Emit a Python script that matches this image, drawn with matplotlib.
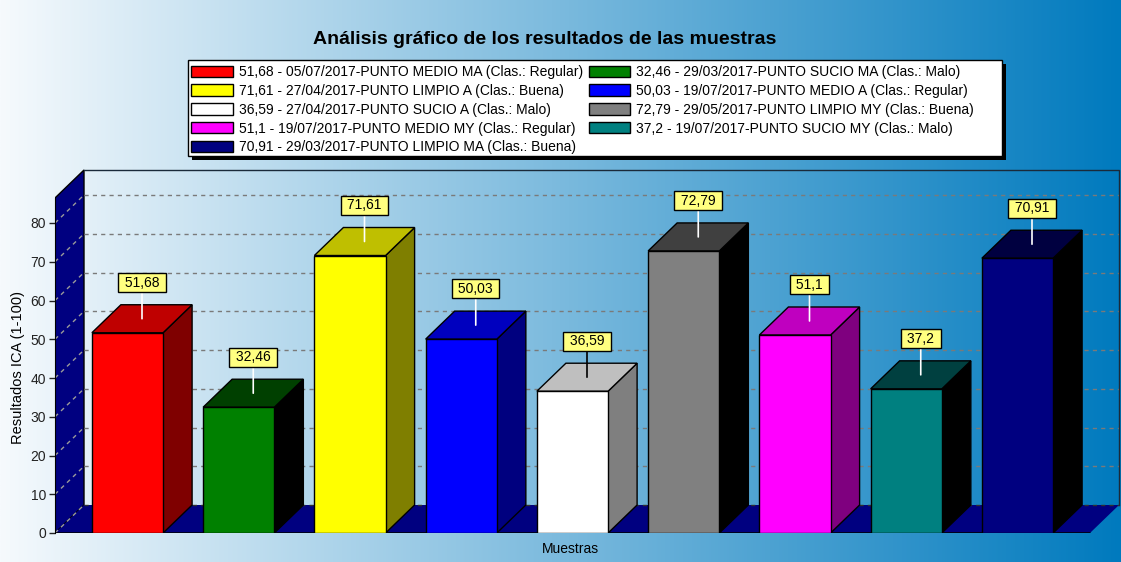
import matplotlib
matplotlib.use("Agg")
import matplotlib.pyplot as plt
import numpy as np
from matplotlib.patches import Polygon, Rectangle, Patch

# ---------------- data ----------------
values = [51.68, 32.46, 71.61, 50.03, 36.59, 72.79, 51.1, 37.2, 70.91]
value_labels = ["51,68", "32,46", "71,61", "50,03", "36,59", "72,79", "51,1", "37,2", "70,91"]
dates = ["05/07/2017", "29/03/2017", "27/04/2017", "19/07/2017", "27/04/2017",
         "29/05/2017", "19/07/2017", "19/07/2017", "29/03/2017"]
points = ["PUNTO MEDIO MA", "PUNTO SUCIO MA", "PUNTO LIMPIO A", "PUNTO MEDIO A",
          "PUNTO SUCIO A", "PUNTO LIMPIO MY", "PUNTO MEDIO MY", "PUNTO SUCIO MY",
          "PUNTO LIMPIO MA"]
classes = ["Regular", "Malo", "Buena", "Regular", "Malo", "Buena", "Regular", "Malo", "Buena"]
bar_colors = [(255, 0, 0), (0, 128, 0), (255, 255, 0), (0, 0, 255), (255, 255, 255),
              (128, 128, 128), (255, 0, 255), (0, 128, 128), (0, 0, 128)]
y_ticks = [0, 10, 20, 30, 40, 50, 60, 70, 80]
title = "Análisis gráfico de los resultados de las muestras"
y_label = "Resultados ICA (1-100)"
x_label = "Muestras"

plt.rcParams["font.family"] = ["Liberation Sans", "DejaVu Sans"]

W, H = 1121, 562
fig = plt.figure(figsize=(W / 100, H / 100), dpi=100)

# background gradient
bg = fig.add_axes([0, 0, 1, 1], zorder=-10)
c0 = np.array([246, 250, 253]) / 255.0
c1 = np.array([0, 122, 190]) / 255.0
t = np.linspace(0, 1, 512)
grad = (c0[None, :] * (1 - t[:, None]) + c1[None, :] * t[:, None])[None, :, :]
grad = np.repeat(grad, 2, axis=0)
bg.imshow(grad, aspect="auto", extent=[0, 1, 0, 1])
bg.set_axis_off()

# geometry in pixels -> data units
px_x = 111.25
px_y = 3.875
ax_left_px, ax_bottom_px, ax_top_px = 55, 533, 170
front_right_px = 1090
dx = 29 / px_x
dy = 28 / px_y
x0 = -(127.5 - ax_left_px) / px_x
x_end = x0 + (front_right_px - ax_left_px) / px_x
xlim_r = x_end + dx + 2 / px_x
ylim_t = (ax_bottom_px - ax_top_px) / px_y + 1 / px_y
front_top = (ax_bottom_px - ax_top_px) / px_y - dy
width_px = (xlim_r - x0) * px_x
height_px = ylim_t * px_y

ax = fig.add_axes([ax_left_px / W, (H - ax_bottom_px) / H, width_px / W, height_px / H])
ax.set_xlim(x0, xlim_r)
ax.set_ylim(0, ylim_t)
ax.patch.set_alpha(0)

navy = "#000080"
# left wall
ax.add_patch(Polygon([(x0, 0), (x0, front_top), (x0 + dx, front_top + dy), (x0 + dx, dy)],
                     closed=True, fc=navy, ec="black", lw=1, zorder=1))
# floor
ax.add_patch(Polygon([(x0, 0), (x_end, 0), (x_end + dx, dy), (x0 + dx, dy)],
                     closed=True, fc=navy, ec="none", zorder=1))
ax.plot([x0, x_end], [0, 0], color="black", lw=1.8, zorder=2, solid_capstyle="butt")

# gridlines on back wall and left wall
for v in y_ticks:
    ax.plot([x0 + dx, x_end + dx], [v + dy, v + dy], color="#7a7a7a" if v > 0 else "#303030",
            lw=1, ls=(0, (3, 3)), zorder=1.5)
    ax.plot([x0, x0 + dx], [v, v + dy], color="#9a9a9a", lw=1, ls=(0, (3, 3)), zorder=1.6)

# back wall border
ax.plot([x0 + dx, x_end + dx, x_end + dx], [front_top + dy, front_top + dy, dy],
        color="#1a2a3a", lw=1, zorder=1.5)

# bars
w = 0.64
for i, (v, c) in enumerate(zip(values, bar_colors)):
    c = np.array(c)
    front = c / 255.0
    top = np.clip(c - 64, 0, 255) / 255.0
    side = np.clip(c - 128, 0, 255) / 255.0
    xl, xr = i - w / 2, i + w / 2
    ax.add_patch(Polygon([(xr, 0), (xr + dx, dy), (xr + dx, v + dy), (xr, v)],
                         closed=True, fc=side, ec="black", lw=1, zorder=3))
    ax.add_patch(Polygon([(xl, v), (xr, v), (xr + dx, v + dy), (xl + dx, v + dy)],
                         closed=True, fc=top, ec="black", lw=1, zorder=3))
    ax.add_patch(Rectangle((xl, 0), w, v, fc=front, ec="black", lw=1, zorder=4))
    line_col = "black" if tuple(c) == (255, 255, 255) else "white"
    ax.annotate(" " + value_labels[i] + " ", xy=(i + dx / 2, v + dy / 2), xytext=(0, 21),
                textcoords="offset points", ha="center", va="bottom", fontsize=10,
                color="black", zorder=6,
                bbox=dict(boxstyle="square,pad=0.18", fc="#ffff80", ec="black", lw=1),
                arrowprops=dict(arrowstyle="-", color=line_col, lw=1.2, shrinkA=0, shrinkB=0))

# axes styling
for s in ["top", "right", "bottom"]:
    ax.spines[s].set_visible(False)
ax.spines["left"].set_bounds(0, front_top)
ax.spines["left"].set_color("black")
ax.set_xticks([])
ax.set_yticks(y_ticks)
ax.set_yticklabels([str(v) for v in y_ticks])
ax.tick_params(axis="y", direction="out", length=4.5, width=1, labelsize=10, pad=2,
               colors="#222222")

fig.text(18 / W, 1 - 367 / H, y_label, rotation=90, ha="center", va="center", fontsize=10.5)
fig.text(570 / W, 1 - 549 / H, x_label, ha="center", va="center", fontsize=10)
fig.text(545 / W, 1 - 39 / H, title, ha="center", va="center", fontsize=14, fontweight="bold")

# legend frame with shadow
lx0, ly0, lx1, ly1 = 188, 60, 1002, 156
fig.patches.append(Rectangle(((lx0 + 4) / W, 1 - (ly1 + 4) / H), (lx1 - lx0) / W, (ly1 - ly0) / H,
                             transform=fig.transFigure, fc="black", ec="none", zorder=1))
fig.patches.append(Rectangle((lx0 / W, 1 - ly1 / H), (lx1 - lx0) / W, (ly1 - ly0) / H,
                             transform=fig.transFigure, fc="white", ec="black", lw=1, zorder=2))

labels = [f"{value_labels[i]} - {dates[i]}-{points[i]} (Clas.: {classes[i]})" for i in range(len(values))]
order = [0, 2, 4, 6, 8, 1, 3, 5, 7]
handles = [Patch(facecolor=np.array(bar_colors[i]) / 255.0, edgecolor="black", lw=1) for i in order]
leg = fig.legend(handles, [labels[i] for i in order], loc="upper left",
                 bbox_to_anchor=(191 / W, 1 - 65 / H), bbox_transform=fig.transFigure,
                 ncol=2, frameon=False, fontsize=10, handlelength=3.0, handleheight=0.86,
                 handletextpad=0.43, columnspacing=0.43, labelspacing=0.35,
                 borderpad=0, borderaxespad=0)
leg.set_zorder(3)

fig.savefig("out.png", dpi=100)
